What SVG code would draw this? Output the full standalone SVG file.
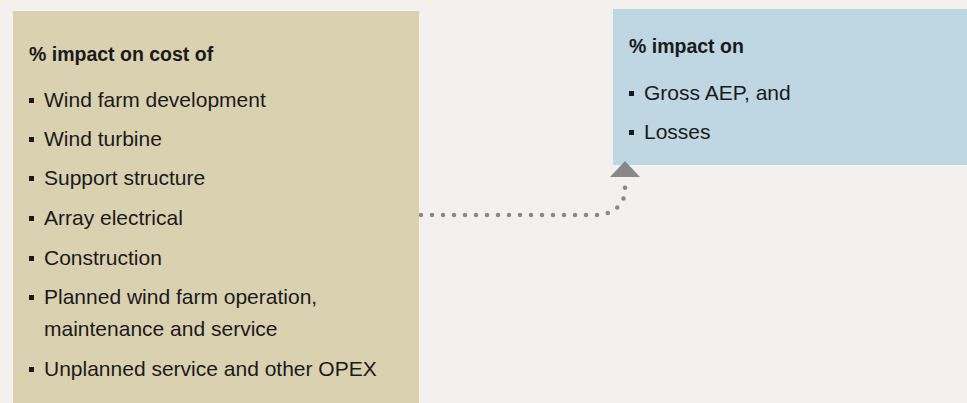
<svg xmlns="http://www.w3.org/2000/svg" width="967" height="403" viewBox="0 0 967 403">
<style>
.t{font-family:"Liberation Sans",Arial,sans-serif;fill:#1a1a1a}
.h{font-size:19.5px;font-weight:bold}
.b{font-size:21px}
.sq{fill:#1a1a1a}
</style>
<rect width="967" height="403" fill="#F3F0ED"/>
<g id="costs">
<rect x="13" y="11" width="406" height="392" fill="#DAD1B1"/>
<text class="t h" x="29" y="61">% impact on cost of</text>
<rect class="sq" x="29" y="98" width="5" height="5"/><text class="t b" x="44" y="107">Wind farm development</text>
<rect class="sq" x="29" y="137" width="5" height="5"/><text class="t b" x="44" y="146">Wind turbine</text>
<rect class="sq" x="29" y="176" width="5" height="5"/><text class="t b" x="44" y="185">Support structure</text>
<rect class="sq" x="29" y="216" width="5" height="5"/><text class="t b" x="44" y="225">Array electrical</text>
<rect class="sq" x="29" y="256" width="5" height="5"/><text class="t b" x="44" y="265">Construction</text>
<rect class="sq" x="29" y="295" width="5" height="5"/><text class="t b" x="44" y="304">Planned wind farm operation,</text>
<text class="t b" x="44" y="336">maintenance and service</text>
<rect class="sq" x="29" y="367" width="5" height="5"/><text class="t b" x="44" y="376">Unplanned service and other OPEX</text>
</g>
<g id="aep">
<rect x="613" y="9" width="354" height="156" fill="#BFD6E3"/>
<text class="t h" x="629" y="53">% impact on</text>
<rect class="sq" x="629" y="91" width="5" height="5"/><text class="t b" x="644" y="100">Gross AEP, and</text>
<rect class="sq" x="629" y="130" width="5" height="5"/><text class="t b" x="644" y="139">Losses</text>
</g>
<g id="connectors">
<path d="M 421 215 L 596 215 C 612 215 625 205 625 190 L 625 181" fill="none" stroke="#888" stroke-width="4.5" stroke-linecap="round" stroke-dasharray="0 11"/>
<polygon points="625,161 640,177 610,177" fill="#888"/>
</g>
</svg>
